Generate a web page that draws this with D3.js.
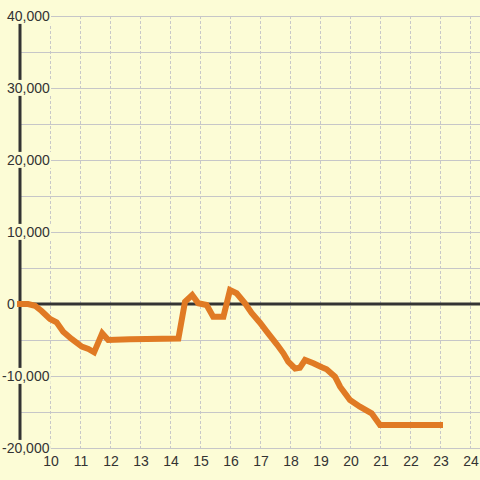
<html lang="en">

<head>
    <meta charset="UTF-8">
    <title>Chart</title>
    <style>
        body {
            margin: 0;
            background: #fcfcd6;
        }

        text {
            font-family: "Liberation Sans", Arial, sans-serif;
            font-size: 14px;
            fill: #333;
        }
    </style>
</head>

<body>
    <script src="https://d3js.org/d3.v7.min.js"></script>

    <div id="my_dataviz"></div>

    <script>

        // Size
        var width = 480
        var height = 480

        // Data
        var hours = [9.0, 9.27, 9.5, 9.72, 10.0, 10.22, 10.44, 10.72, 11.06, 11.28, 11.47, 11.74, 11.94, 12.67,
            14.28, 14.5, 14.74, 14.94, 15.22, 15.44, 15.78, 16.0, 16.22, 16.5, 16.72, 17.0, 17.22, 17.39,
            17.56, 17.78, 17.94, 18.17, 18.33, 18.5, 18.78, 19.06, 19.22, 19.5, 19.67, 20.0, 20.33, 20.72,
            21.0, 23.0]
        var values = [0, 0, -240, -970, -2080, -2540, -3850, -4860, -5930, -6250, -6710, -4070, -5000, -4900,
            -4800, 320, 1250, 100, -140, -1760, -1760, 1940, 1490, 100, -1250, -2600, -3800, -4700,
            -5600, -6850, -8000, -8950, -8850, -7780, -8240, -8790, -9070, -10100, -11490, -13330, -14260, -15180,
            -16800, -16800]

        var xTicks = [10, 11, 12, 13, 14, 15, 16, 17, 18, 19, 20, 21, 22, 23, 24]
        var yTicks = [-20000, -10000, 0, 10000, 20000, 30000, 40000]
        var yGrid = [-20000, -15000, -10000, -5000, 5000, 10000, 15000, 20000, 25000, 30000, 35000, 40000]

        var svg = d3.select("#my_dataviz")
            .append("svg")
            .attr("width", width)
            .attr("height", height)

        // scales
        var x = d3.scaleLinear()
            .domain([9, 24 + 1 / 3])
            .range([20, 480])

        var y = d3.scaleLinear()
            .domain([-20000, 40000])
            .range([448, 16])

        // background
        svg.append("rect")
            .attr("width", width)
            .attr("height", height)
            .attr("fill", "#fcfcd6")

        // vertical dashed grid
        svg.append("g")
            .selectAll("line")
            .data(xTicks)
            .enter()
            .append("line")
            .attr("x1", function (d) { return x(d) })
            .attr("x2", function (d) { return x(d) })
            .attr("y1", y(40000))
            .attr("y2", y(-20000))
            .attr("stroke", "#c8c8c8")
            .attr("stroke-width", 1)
            .style("stroke-dasharray", "3,2")
            .attr("shape-rendering", "crispEdges")

        // horizontal grid
        svg.append("g")
            .selectAll("line")
            .data(yGrid)
            .enter()
            .append("line")
            .attr("x1", x(9))
            .attr("x2", width)
            .attr("y1", function (d) { return y(d) })
            .attr("y2", function (d) { return y(d) })
            .attr("stroke", "#c6c6c8")
            .attr("stroke-width", 1)
            .attr("shape-rendering", "crispEdges")

        // y axis line
        svg.append("line")
            .attr("x1", x(9))
            .attr("x2", x(9))
            .attr("y1", y(40000))
            .attr("y2", y(-20000))
            .attr("stroke", "#333")
            .attr("stroke-width", 3)

        // zero line
        svg.append("line")
            .attr("x1", x(9))
            .attr("x2", width)
            .attr("y1", y(0))
            .attr("y2", y(0))
            .attr("stroke", "#333")
            .attr("stroke-width", 3)

        // y labels with a box behind them
        var fmt = function (d) { return d3.format(",")(d).replace("\u2212", "-") }
        var yLab = svg.append("g")
            .selectAll("g")
            .data(yTicks)
            .enter()
            .append("g")

        yLab.append("rect")
            .attr("fill", "#fcfcd6")

        yLab.append("text")
            .attr("x", function (d) { return d < 0 ? 2 : 7 })
            .attr("y", function (d) { return y(d) })
            .attr("dy", "0.35em")
            .text(fmt)

        yLab.each(function () {
            var g = d3.select(this)
            var b = g.select("text").node().getBBox()
            g.select("rect")
                .attr("x", b.x - 1)
                .attr("y", b.y)
                .attr("width", b.width + 2)
                .attr("height", b.height)
        })

        // x labels
        svg.append("g")
            .selectAll("text")
            .data(xTicks)
            .enter()
            .append("text")
            .attr("x", function (d) { return x(d) + 1 })
            .attr("y", 466)
            .attr("text-anchor", "middle")
            .text(function (d) { return d })

        // the line
        var line = d3.line()
            .x(function (d) { return x(d[0]) })
            .y(function (d) { return y(d[1]) })

        svg.append("path")
            .datum(d3.zip(hours, values))
            .attr("d", line)
            .attr("fill", "none")
            .attr("stroke", "#e07a24")
            .attr("stroke-width", 6)
            .attr("stroke-linecap", "square")
            .attr("stroke-linejoin", "miter")

    </script>

</body>

</html>
